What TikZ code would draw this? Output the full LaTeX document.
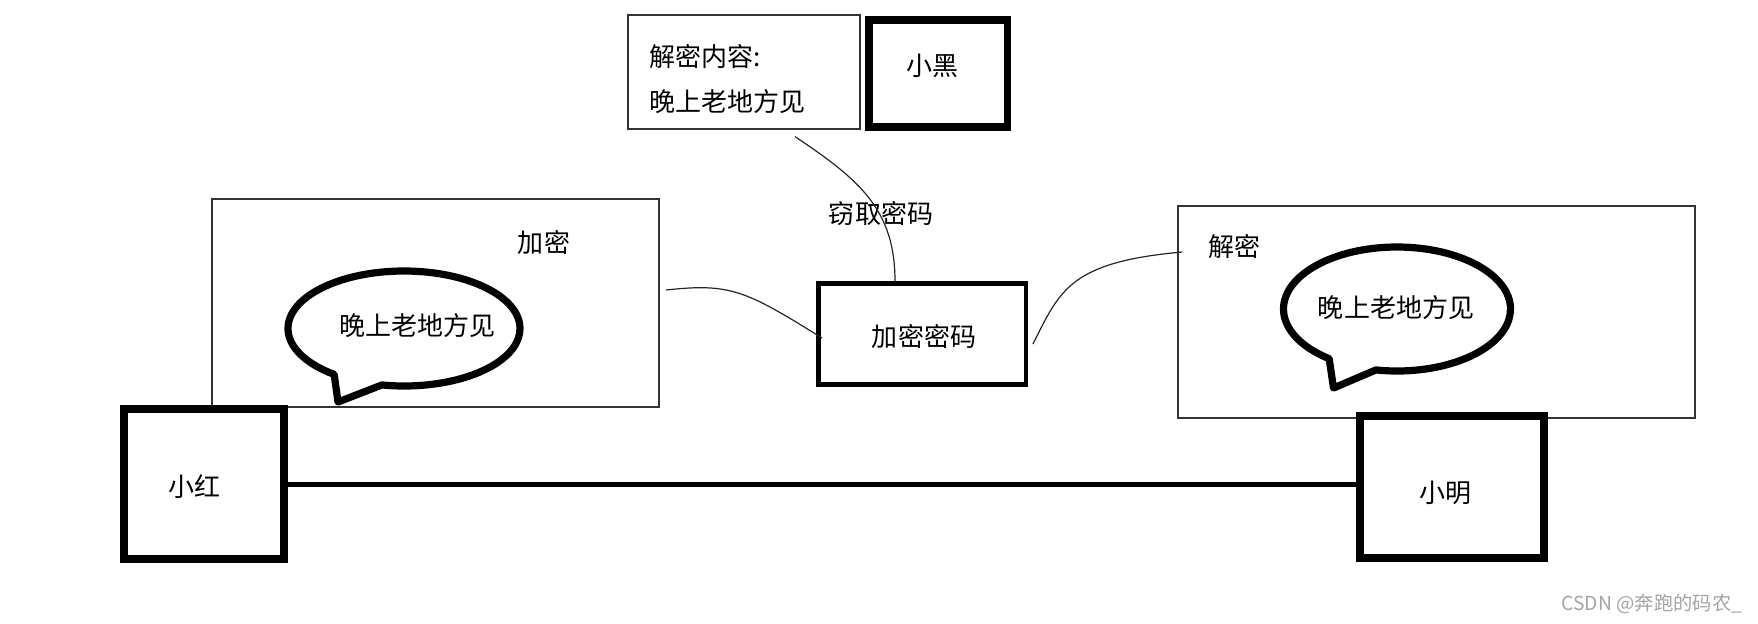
\documentclass[tikz,border=0pt]{standalone}
\usepackage{fontspec}
\setmainfont{Noto Sans CJK SC}
\usetikzlibrary{shapes.callouts,positioning}
\definecolor{markGray}{RGB}{165,165,165}

\begin{document}
\begin{tikzpicture}[
  txt/.style={inner sep=0pt,align=left,font=\fontsize{7.4}{13}\selectfont,text=black},
  thinbox/.style={rectangle,draw=black!80,line width=0.012cm,inner sep=0pt},
  person/.style={rectangle,draw=black,line width=0.075cm,inner sep=0pt},
  keybox/.style={rectangle,draw=black,line width=0.045cm,inner sep=0pt,
                 minimum width=2.075cm,minimum height=1.01cm},
  bubble/.style={ellipse callout,draw=black,line width=0.072cm,inner sep=0pt,outer sep=0pt,
                 line join=round,callout pointer arc=26},
  wire/.style={draw=black!85,line width=0.012cm},
  talk/.style={draw=black,line width=0.05cm}
]
  \useasboundingbox (0,0) rectangle (17.58,-6.23);
  % boxes
  \node[thinbox,minimum width=4.47cm,minimum height=2.08cm] (enc) at (4.355,-3.03) {};
  \node[thinbox,minimum width=5.17cm,minimum height=2.12cm] (dec) at (14.365,-3.12) {};
  \node[thinbox,minimum width=2.32cm,minimum height=1.14cm] (info) at (7.44,-0.72) {};
  \node[person,minimum width=1.60cm,minimum height=1.50cm] (hong) at (2.04,-4.84) {};
  \node[person,minimum width=1.84cm,minimum height=1.42cm] (ming) at (14.52,-4.87) {};
  \node[person,minimum width=1.385cm,minimum height=1.07cm] (hei) at (9.38,-0.735) {};
  \node[keybox] (key) at (9.22,-3.34) {};
  % speech bubbles
  \node[bubble,minimum width=2.32cm,minimum height=1.15cm,
        callout absolute pointer={(3.38,-4.02)}] (msgL) at (4.04,-3.285) {};
  \node[bubble,minimum width=2.27cm,minimum height=1.24cm,
        callout absolute pointer={(13.335,-3.88)}] (msgR) at (13.97,-3.09) {};
  % labels
  \node[txt] (hongT) at (1.945,-4.87) {小红};
  \node[txt] (mingT) at (14.455,-4.93) {小明};
  \node[txt] (heiT) at (9.325,-0.66) {小黑};
  \node[txt] (encT) at (5.44,-2.42) {加密};
  \node[txt] (decT) at (12.34,-2.47) {解密};
  \node[txt] (keyT) at (9.24,-3.36) {加密密码};
  \node[txt] (msgLT) at (4.175,-3.26) {晚上老地方见};
  \node[txt] (msgRT) at (13.96,-3.08) {晚上老地方见};
  \node[txt,anchor=west] (infoT) at (6.49,-0.79) {解密内容:\\晚上老地方见};
  \node[txt] (tapT) at (8.81,-2.14) {窃取密码};
  \node[inner sep=0pt,anchor=east,font=\fontsize{5.5}{7}\selectfont,text=markGray] (markT) at (17.43,-6.04) {CSDN @奔跑的码农\_};
  % connectors
  \draw[talk,shorten >=-0.08cm] (hong.east) -- (hong.east -| ming.west);
  \draw[wire] ([shift={(0.065,0.13)}]enc.east) .. controls (7.3,-2.83) and (7.45,-2.9) .. ([shift={(0.06,-0.04)}]key.west);
  \draw[wire] ([shift={(0.05,-0.10)}]key.east) .. controls (10.6,-2.9) and (10.7,-2.62) .. ([shift={(0.05,0.60)}]dec.west);
  \draw[wire] ([shift={(0.51,-0.07)}]info.south) .. controls (8.6,-1.8) and (8.95,-2.1) .. ([xshift=-0.27cm]key.north);
\end{tikzpicture}
\end{document}
